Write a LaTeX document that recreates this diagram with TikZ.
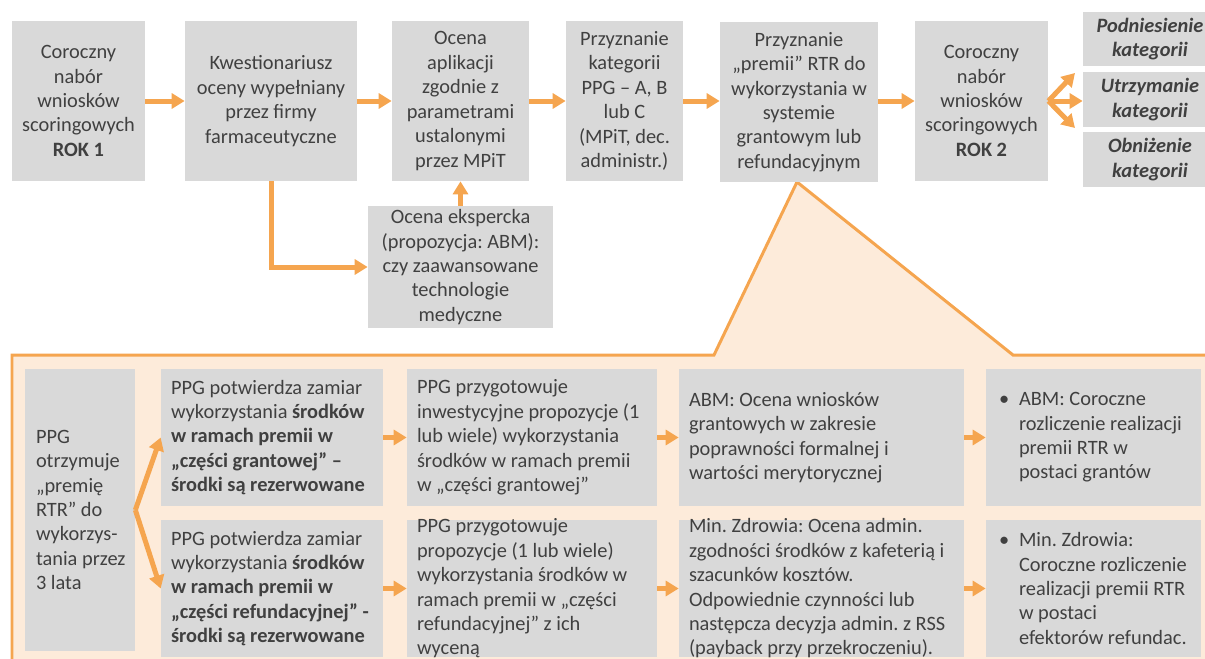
\documentclass[tikz,border=0pt]{standalone}
\usepackage{fontspec}
\setmainfont{Carlito}
\frenchspacing
\usetikzlibrary{arrows.meta}
\definecolor{boxgray}{HTML}{D9D9D9}
\definecolor{txtgray}{HTML}{404040}
\definecolor{arrorange}{HTML}{F5A54F}
\definecolor{panelfill}{HTML}{FDEBDA}

\begin{document}
\begin{tikzpicture}[x=0.02cm,y=-0.02cm,
  box/.style={fill=boxgray,text=txtgray,align=center,inner sep=0,
    font=\fontsize{11.6pt}{13.9pt}\selectfont},
  txt/.style={anchor=west,align=left,inner sep=0,text=txtgray,
    font=\fontsize{11.6pt}{13.9pt}\selectfont},
  conn/.style={draw=arrorange,line width=0.1cm,
    -{Triangle[length=0.26cm,width=0.3cm]}}]
\useasboundingbox (0,0) rectangle (1205,659);
\clip (0,0) rectangle (1205,659);

\filldraw[fill=panelfill,draw=arrorange,line width=0.06cm]
  (12,700) -- (12,355) -- (714,355) -- (797,182) -- (1013,355)
  -- (1230,355) -- (1230,700) -- cycle;

\node[box,minimum width=2.66cm,minimum height=3.2cm] (rok1) at (78.5,101)
  {Coroczny\\nabór\\wniosków\\scoringowych\\\textbf{ROK 1}};
\node[box,minimum width=3.44cm,minimum height=3.2cm] (kwest) at (271,101)
  {Kwestionariusz\\oceny wypełniany\\przez firmy\\farmaceutyczne};
\node[box,minimum width=2.74cm,minimum height=3.2cm] (ocena) at (460.5,101)
  {Ocena\\aplikacji\\zgodnie z\\parametrami\\ustalonymi\\przez MPiT};
\node[box,minimum width=2.34cm,minimum height=3.2cm] (kateg) at (624.5,101)
  {Przyznanie\\kategorii\\PPG – A, B\\lub C\\(MPiT, dec.\\administr.)};
\node[box,minimum width=3.16cm,minimum height=3.2cm] (premia) at (799,102)
  {Przyznanie\\„premii” RTR do\\wykorzystania w\\systemie\\grantowym lub\\refundacyjnym};
\node[box,minimum width=2.66cm,minimum height=3.2cm] (rok2) at (981.5,101)
  {Coroczny\\nabór\\wniosków\\scoringowych\\\textbf{ROK 2}};

\node[box,minimum width=2.68cm,minimum height=1.08cm] (podn) at (1150,39)
  {\textbf{\textit{Podniesienie}}\\\textbf{\textit{kategorii}}};
\node[box,minimum width=2.68cm,minimum height=1.1cm] (utrz) at (1150,99.5)
  {\textbf{\textit{Utrzymanie}}\\\textbf{\textit{kategorii}}};
\node[box,minimum width=2.68cm,minimum height=1.1cm] (obniz) at (1150,159.5)
  {\textbf{\textit{Obniżenie}}\\\textbf{\textit{kategorii}}};

\node[box,minimum width=3.7cm,minimum height=2.44cm] (eksp) at (460.5,267)
  {Ocena ekspercka\\(propozycja: ABM):\\czy zaawansowane\\technologie\\medyczne};

\coordinate (podnend) at (1075,73);
\coordinate (obnizend) at (1075,128);

\draw[conn] (rok1) -- (kwest);
\draw[conn] (kwest) -- (ocena);
\draw[conn] (ocena) -- (kateg);
\draw[conn] (kateg.east) -- (premia.west |- kateg.east);
\draw[conn] (premia.east |- rok2.west) -- (rok2);
\draw[conn] (rok2.east) -- (podnend);
\draw[conn] (rok2.east) -- (utrz.west |- rok2.east);
\draw[conn] (rok2.east) -- (obnizend);
\draw[conn] (kwest.south) |- (eksp.west);
\draw[conn] (eksp.north) -- (ocena.south);

\node[box,minimum width=2.2cm,minimum height=5.64cm] (ppg) at (80,510) {};
\node[txt] (ppgt) at ([xshift=0.22cm]ppg.west)
  {PPG\\otrzymuje\\„premię\\RTR” do\\wykorzys-\\tania przez\\3 lata};

\node[box,minimum width=4.44cm,minimum height=2.74cm] (grant1) at (272,437.5) {};
\node[txt] (grant1t) at ([xshift=0.2cm]grant1.west)
  {PPG potwierdza zamiar\\wykorzystania \textbf{środków}\\\textbf{w ramach premii w}\\\textbf{„części grantowej” –}\\\textbf{środki są rezerwowane}};
\node[box,minimum width=4.44cm,minimum height=2.74cm] (refund1) at (272,588.5) {};
\node[txt] (refund1t) at ([xshift=0.2cm]refund1.west)
  {PPG potwierdza zamiar\\wykorzystania \textbf{środków}\\\textbf{w ramach premii w}\\\textbf{„części refundacyjnej” -}\\\textbf{środki są rezerwowane}};

\node[box,minimum width=5.0cm,minimum height=2.74cm] (grant2) at (532,437.5) {};
\node[txt] (grant2t) at ([xshift=0.2cm]grant2.west)
  {PPG przygotowuje\\inwestycyjne propozycje (1\\lub wiele) wykorzystania\\środków w ramach premii\\w „części grantowej”};
\node[box,minimum width=5.0cm,minimum height=2.74cm] (refund2) at (532,588.5) {};
\node[txt] (refund2t) at ([xshift=0.2cm]refund2.west)
  {PPG przygotowuje\\propozycje (1 lub wiele)\\wykorzystania środków w\\ramach premii w „części\\refundacyjnej” z ich\\wyceną};

\node[box,minimum width=5.7cm,minimum height=2.74cm] (grant3) at (821.5,437.5) {};
\node[txt] (grant3t) at ([xshift=0.2cm]grant3.west)
  {ABM: Ocena wniosków\\grantowych w zakresie\\poprawności formalnej i\\wartości merytorycznej};
\node[box,minimum width=5.7cm,minimum height=2.74cm] (refund3) at (821.5,588.5) {};
\node[txt] (refund3t) at ([xshift=0.2cm]refund3.west)
  {Min. Zdrowia: Ocena admin.\\zgodności środków z kafeterią i\\szacunków kosztów.\\Odpowiednie czynności lub\\następcza decyzja admin. z RSS\\(payback przy przekroczeniu).};

\node[box,minimum width=4.3cm,minimum height=2.74cm] (grant4) at (1093.5,437.5) {};
\node[txt] (grant4t) at ([xshift=0.26cm]grant4.west)
  {\makebox[0.4cm][l]{•}ABM: Coroczne\\\hspace*{0.4cm}rozliczenie realizacji\\\hspace*{0.4cm}premii RTR w\\\hspace*{0.4cm}postaci grantów};
\node[box,minimum width=4.3cm,minimum height=2.74cm] (refund4) at (1093.5,588.5) {};
\node[txt] (refund4t) at ([xshift=0.26cm]refund4.west)
  {\makebox[0.4cm][l]{•}Min. Zdrowia:\\\hspace*{0.4cm}Coroczne rozliczenie\\\hspace*{0.4cm}realizacji premii RTR\\\hspace*{0.4cm}w postaci\\\hspace*{0.4cm}efektorów refundac.};

\draw[conn] (ppg.east) -- (grant1.west);
\draw[conn] (ppg.east) -- (refund1.west);
\draw[conn] (grant1) -- (grant2);
\draw[conn] (refund1) -- (refund2);
\draw[conn] (grant2) -- (grant3);
\draw[conn] (refund2) -- (refund3);
\draw[conn] (grant3) -- (grant4);
\draw[conn] (refund3) -- (refund4);
\end{tikzpicture}
\end{document}
